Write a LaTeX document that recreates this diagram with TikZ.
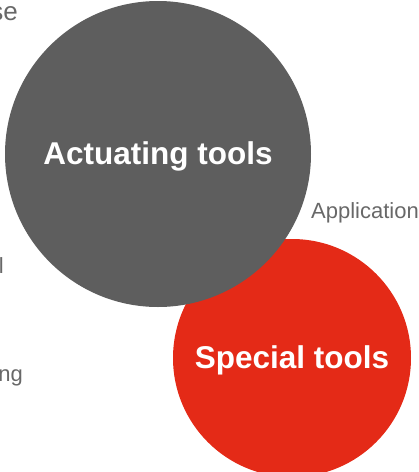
\documentclass[tikz,border=0pt]{standalone}
\usepackage{fontspec}
\setmainfont{Liberation Sans}
\usepackage{xcolor}
\usetikzlibrary{positioning}
\definecolor{toolgray}{RGB}{94, 94, 94}
\definecolor{toolred}{RGB}{228, 42, 23}
\definecolor{labelgray}{RGB}{104, 104, 104}
\tikzset{
  bubble/.style={circle, inner sep=0pt, align=center, text=white,
    text height=22pt, text depth=1pt,
    font=\fontsize{31.5}{36}\selectfont\bfseries},
  side/.style={inner sep=0pt, text=labelgray,
    font=\fontsize{22}{26}\selectfont},
}

\begin{document}
\begin{tikzpicture}[x=1pt, y=-1pt]

  % ── Frame ──
  \useasboundingbox (0,0) rectangle (419,472);
  \clip (0,0) rectangle (419,472);

  % ── Circles ──
  \node[bubble, fill=toolred, minimum size=238pt] (special) at (292,358) {Special tools};
  \node[bubble, fill=toolgray, minimum size=306pt] (actuating) at (158,154) {Actuating tools};

  % ── Side labels ──
  \node[side, anchor=base west] (application) at (311,218) {Application};
  \node[side, anchor=base east, font=\fontsize{26}{30}\selectfont] (topleft) at (18,20) {se};
  \node[side, anchor=base east] (midleft) at (4,273) {l};
  \node[side, anchor=base east] (lowleft) at (23,381) {ng};

\end{tikzpicture}
\end{document}
